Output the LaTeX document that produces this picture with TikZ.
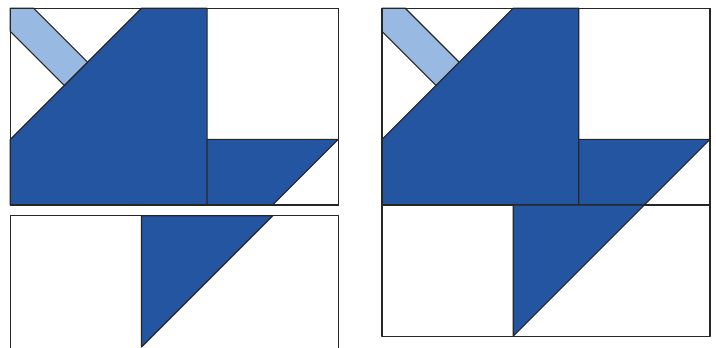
\documentclass[tikz,border=0pt]{standalone}
\usepackage{tikz}
\usepackage{xcolor}
\definecolor{quiltblue}{HTML}{2355A0}
\definecolor{quiltsky}{HTML}{98B9E2}

\begin{document}
\begin{tikzpicture}[patch/.style={draw=black!85,line width=0.5pt,line join=round},
  dark/.style={patch,fill=quiltblue},light/.style={patch,fill=quiltsky}]
\useasboundingbox (0,0) rectangle (10.915,5.29);
% upper block, shown alone and in the full block
\foreach \bx/\by in {0.157/2.165,5.823/2.165}{
\begin{scope}[shift={(\bx,\by)}]
\draw[patch,fill=white] (0,0) rectangle (5,3);
\draw[dark] (0,0) -- (0,1) -- (2,3) -- (3,3) -- (3,0) -- cycle;
\draw[dark] (3,0) -- (3,1) -- (5,1) -- (4,0) -- cycle;
\draw[light] (0,3) -- (0.354,3) -- (1.177,2.177) -- (0.823,1.823) -- (0,2.646) -- cycle;
\draw[patch] (0,0) rectangle (5,3);
\end{scope}}
% lower block alone (its bottom edge runs off the page)
\begin{scope}[shift={(0.157,0)}]
\draw[patch,fill=white] (0,-0.1) rectangle (5,2);
\draw[dark] (2,2) -- (4,2) -- (2,0) -- cycle;
\end{scope}
% lower block in the full block
\begin{scope}[shift={(5.823,0.165)}]
\draw[patch,fill=white] (0,0) rectangle (5,2);
\draw[dark] (2,2) -- (4,2) -- (2,0) -- cycle;
\end{scope}
\end{tikzpicture}
\end{document}
